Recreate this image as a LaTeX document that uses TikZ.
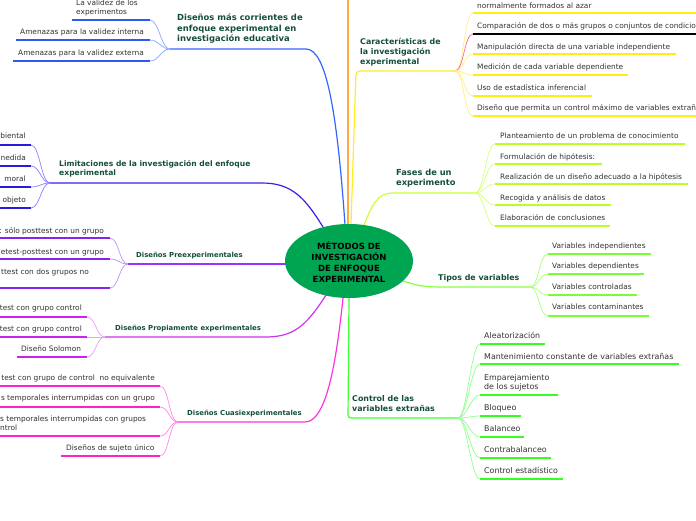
\documentclass[tikz,border=0pt]{standalone}
\usepackage{fontspec}
\setmainfont{DejaVu Sans}
\usetikzlibrary{shapes.geometric}
\definecolor{leafgray}{HTML}{333333}
\definecolor{brgreen}{HTML}{154F3C}
\definecolor{centerfill}{HTML}{00A551}
\definecolor{bOne}{HTML}{3366FF}\definecolor{bOneL}{HTML}{2F5AF0}\definecolor{bOneC}{HTML}{88A8FF}
\definecolor{bTwo}{HTML}{3322EE}\definecolor{bTwoL}{HTML}{2A1ADD}\definecolor{bTwoC}{HTML}{8C80FF}
\definecolor{bThree}{HTML}{9933FF}\definecolor{bThreeL}{HTML}{8822EE}\definecolor{bThreeC}{HTML}{C090FF}
\definecolor{bFour}{HTML}{CC33EE}\definecolor{bFourL}{HTML}{CC22EE}\definecolor{bFourC}{HTML}{EE99FF}
\definecolor{bFive}{HTML}{FF33DD}\definecolor{bFiveL}{HTML}{FF22CC}\definecolor{bFiveC}{HTML}{FF88EE}
\definecolor{bOrange}{HTML}{FFAA44}
\definecolor{bSix}{HTML}{FFEE22}\definecolor{bSixL}{HTML}{FFEE11}\definecolor{bSixC}{HTML}{FFF080}\definecolor{bSixR}{HTML}{FF6688}
\definecolor{bSeven}{HTML}{CCFF33}\definecolor{bSevenL}{HTML}{BBFF22}\definecolor{bSevenC}{HTML}{D4FF80}
\definecolor{bEight}{HTML}{88FF44}\definecolor{bEightL}{HTML}{77FF33}\definecolor{bEightC}{HTML}{AAFF77}
\definecolor{bNine}{HTML}{44FF33}\definecolor{bNineL}{HTML}{33FF22}\definecolor{bNineC}{HTML}{90FF90}
\tikzset{
  leaf/.style={font=\fontsize{7.4}{9.2}\selectfont, text=leafgray, inner sep=0pt, align=left},
  leafbig/.style={font=\fontsize{7.9}{9}\selectfont, text=leafgray, inner sep=0pt, align=left},
  brlabel/.style={font=\bfseries\fontsize{7.9}{9.6}\selectfont, text=brgreen, inner sep=0pt, align=left},
  uline/.style={line width=1.7pt},
  conn/.style={line width=0.7pt},
  mainline/.style={line width=1.2pt},
}
\newcommand\leafR[7]{\coordinate (#1a) at (#3,#5);\coordinate (#1b) at (#4,#5);%
  \draw[conn,#7] (#2) .. controls +(9,0) and +(-9,0) .. (#1a);%
  \draw[uline,#6] (#1a) -- (#1b);}
\newcommand\leafL[7]{\coordinate (#1a) at (#3,#5);\coordinate (#1b) at (#4,#5);%
  \draw[conn,#7] (#2) .. controls +(-9,0) and +(9,0) .. (#1b);%
  \draw[uline,#6] (#1a) -- (#1b);}
\begin{document}
\begin{tikzpicture}[x=1pt,y=-1pt]
\useasboundingbox (0,0) rectangle (696,520);
\fill[white] (0,0) rectangle (696,520);
\clip (0,0) rectangle (696,520);

% ---------- branch points ----------
\coordinate (E0) at (348,224); \coordinate (T0) at (348,-2);
\coordinate (E1) at (345,225); \coordinate (P1) at (170,49);
\coordinate (E2) at (323,227); \coordinate (P2) at (50,183);
\coordinate (E3) at (286,264); \coordinate (P3) at (128,264);
\coordinate (E4) at (326,295); \coordinate (P4) at (105,337);
\coordinate (E5) at (343,298); \coordinate (P5) at (178,422);
\coordinate (E6) at (351,224); \coordinate (P6) at (455,71);
\coordinate (E7) at (364,225); \coordinate (P7) at (475,193);
\coordinate (E8) at (403,281); \coordinate (P8) at (530,287);
\coordinate (E9) at (349,298); \coordinate (P9) at (458,418);

% ---------- main branch lines ----------
\draw[mainline,bOrange] (E0) -- (T0);
\draw[mainline,bOne] (E1) .. controls (337,110) and (326,49) .. (306,49) -- (P1);
\draw[mainline,bTwo] (E2) .. controls (305,198) and (292,183) .. (262,183) -- (P2);
\draw[mainline,bThree] (E3) -- (P3);
\draw[mainline,bFour] (E4) .. controls (305,328) and (292,337) .. (265,337) -- (P4);
\draw[mainline,bFive] (E5) .. controls (336,365) and (326,422) .. (305,422) -- (P5);
\draw[mainline,bSix,rounded corners=4pt] (E6) -- (356,71) -- (P6);
\draw[mainline,bSeven] (E7) .. controls (372,205) and (378,193) .. (392,193) -- (P7);
\draw[mainline,bEight] (E8) .. controls (418,286) and (425,287) .. (442,287) -- (P8);
\draw[mainline,bNine,rounded corners=3pt] (E9) -- (348,418) -- (P9);

% ---------- centre ----------
\node[ellipse,fill=centerfill,minimum width=128pt,minimum height=74pt,inner sep=0pt] (C) at (349,261) {};
\node[font=\bfseries\fontsize{8.5}{11}\selectfont,align=center,inner sep=0pt,text=black] (Ct) at (349,262) {MÉTODOS DE\\INVESTIGACIÓN\\DE ENFOQUE\\EXPERIMENTAL};

% ---------- branch 1 ----------
\node[brlabel,font=\bfseries\fontsize{8.4}{10.8}\selectfont,anchor=base west] (B1) at (177,41.9) {Diseños más corrientes de\\enfoque experimental en\\investigación educativa};
\leafL{L11}{P1}{72}{150}{20}{bOneL}{bOneC}
\leafL{L12}{P1}{16}{150}{40}{bOneL}{bOneC}
\leafL{L13}{P1}{13}{150}{61}{bOneL}{bOneC}
\node[leaf,anchor=base west] (t11) at (76,14.7) {La validez de los\\experimentos};
\node[leaf,anchor=base west] (t12) at (20,34.5) {Amenazas para la validez interna};
\node[leaf,anchor=base west] (t13) at (18,55.5) {Amenazas para la validez externa};

% ---------- branch 2 ----------
\node[brlabel,font=\bfseries\fontsize{7.6}{9.4}\selectfont,anchor=base west] (B2) at (59,175.6) {Limitaciones de la investigación del enfoque\\experimental};
\leafL{L21}{P2}{-2}{31}{145}{bTwoL}{bTwoC}
\leafL{L22}{P2}{-2}{31}{166}{bTwoL}{bTwoC}
\leafL{L23}{P2}{-2}{31}{187}{bTwoL}{bTwoC}
\leafL{L24}{P2}{-2}{31}{208}{bTwoL}{bTwoC}
\node[leaf,anchor=base east] (t21) at (26,138.5) {biental};
\node[leaf,anchor=base east] (t22) at (26,160.5) {nedida};
\node[leaf,anchor=base east] (t23) at (26,181.5) {moral};
\node[leaf,anchor=base east] (t24) at (26,202.5) {objeto};

% ---------- branch 3 ----------
\node[brlabel,font=\bfseries\fontsize{6.9}{8.5}\selectfont,anchor=base west] (B3) at (136,257.8) {Diseños Preexperimentales};
\leafL{L31}{P3}{-2}{110}{238}{bThreeL}{bThreeC}
\leafL{L32}{P3}{-2}{110}{259}{bThreeL}{bThreeC}
\leafL{L33}{P3}{-2}{110}{288}{bThreeL}{bThreeC}
\node[leaf,anchor=base east] (t31) at (104,233.5) {: sólo posttest con un grupo};
\node[leaf,anchor=base east] (t32) at (104,254.5) {etest-posttest con un grupo};
\node[leaf,anchor=base east] (t33) at (89,274.5) {ttest con dos grupos no};

% ---------- branch 4 ----------
\node[brlabel,font=\bfseries\fontsize{6.9}{8.5}\selectfont,anchor=base west] (B4) at (115,330.8) {Diseños Propiamente experimentales};
\leafL{L41}{P4}{-2}{87}{317}{bFourL}{bFourC}
\leafL{L42}{P4}{-2}{87}{337}{bFourL}{bFourC}
\leafL{L43}{P4}{17}{87}{357}{bFourL}{bFourC}
\node[leaf,anchor=base east] (t41) at (82,310.5) {test con grupo control};
\node[leaf,anchor=base east] (t42) at (82,331.5) {test con grupo control};
\node[leaf,anchor=base west] (t43) at (21,351.5) {Diseño Solomon};

% ---------- branch 5 ----------
\node[brlabel,font=\bfseries\fontsize{6.9}{8.5}\selectfont,anchor=base west] (B5) at (187,415.8) {Diseños Cuasiexperimentales};
\leafL{L51}{P5}{-2}{160}{386}{bFiveL}{bFiveC}
\leafL{L52}{P5}{-2}{160}{407}{bFiveL}{bFiveC}
\leafL{L53}{P5}{-2}{160}{436}{bFiveL}{bFiveC}
\leafL{L54}{P5}{61}{160}{456}{bFiveL}{bFiveC}
\node[leaf,anchor=base east] (t51) at (155,380.5) {test con grupo de control \ no equivalente};
\node[leaf,anchor=base east] (t52) at (155,400.5) {s temporales interrumpidas con un grupo};
\node[leaf,anchor=base west] (t53) at (0,430.7) {s temporales interrumpidas con grupos\\ntrol};
\node[leaf,anchor=base west] (t54) at (66,450.5) {Diseños de sujeto único};

% ---------- branch 6 ----------
\node[brlabel,anchor=base west] (B6) at (360,64.0) {Características de\\la investigación\\experimental};
\leafR{L61}{P6}{473}{700}{13}{bSixL}{bSixC}
\leafR{L62}{P6}{473}{700}{34}{black}{bSixR}
\leafR{L63}{P6}{473}{676}{54}{bSixL}{bSixC}
\leafR{L64}{P6}{473}{628}{75}{bSixL}{bSixC}
\leafR{L65}{P6}{473}{592}{96}{bSixL}{bSixC}
\leafR{L66}{P6}{473}{700}{116}{bSixL}{bSixC}
\node[leaf,anchor=base west] (t61) at (477,8.5) {normalmente formados al azar};
\node[leaf,anchor=base west] (t62) at (477,28.5) {Comparación de dos o más grupos o conjuntos de condiciones};
\node[leaf,anchor=base west] (t63) at (477,49) {Manipulación directa de una variable independiente};
\node[leaf,anchor=base west] (t64) at (477,69.5) {Medición de cada variable dependiente};
\node[leaf,anchor=base west] (t65) at (477,90.5) {Uso de estadística inferencial};
\node[leaf,anchor=base west] (t66) at (477,110.5) {Diseño que permita un control máximo de variables extrañas};

% ---------- branch 7 ----------
\node[brlabel,font=\bfseries\fontsize{8.3}{10}\selectfont,anchor=base west] (B7) at (396,185) {Fases de un\\experimento};
\leafR{L71}{P7}{495}{685}{144}{bSevenL}{bSevenC}
\leafR{L72}{P7}{495}{602}{164}{bSevenL}{bSevenC}
\leafR{L73}{P7}{495}{688}{184}{bSevenL}{bSevenC}
\leafR{L74}{P7}{495}{611}{205}{bSevenL}{bSevenC}
\leafR{L75}{P7}{495}{610}{226}{bSevenL}{bSevenC}
\node[leaf,anchor=base west] (t71) at (500,138.5) {Planteamiento de un problema de conocimiento};
\node[leaf,anchor=base west] (t72) at (500,159) {Formulación de hipótesis:};
\node[leaf,anchor=base west] (t73) at (500,179.5) {Realización de un diseño adecuado a la hipótesis};
\node[leaf,anchor=base west] (t74) at (500,200.5) {Recogida y análisis de datos};
\node[leaf,anchor=base west] (t75) at (500,220.5) {Elaboración de conclusiones};

% ---------- branch 8 ----------
\node[brlabel,anchor=base west] (B8) at (438,280) {Tipos de variables};
\leafR{L81}{P8}{548}{651}{254}{bEightL}{bEightC}
\leafR{L82}{P8}{548}{644}{274}{bEightL}{bEightC}
\leafR{L83}{P8}{548}{637}{295}{bEightL}{bEightC}
\leafR{L84}{P8}{548}{649}{316}{bEightL}{bEightC}
\node[leaf,anchor=base west] (t81) at (552,248.5) {Variables independientes};
\node[leaf,anchor=base west] (t82) at (552,268.5) {Variables dependientes};
\node[leaf,anchor=base west] (t83) at (552,289.5) {Variables controladas};
\node[leaf,anchor=base west] (t84) at (552,309.5) {Variables contaminantes};

% ---------- branch 9 ----------
\node[brlabel,font=\bfseries\fontsize{7.9}{9.3}\selectfont,anchor=base west] (B9) at (352,411.1) {Control de las\\variables extrañas};
\leafR{L91}{P9}{480}{545}{344}{bNineL}{bNineC}
\leafR{L92}{P9}{480}{679}{364}{bNineL}{bNineC}
\leafR{L93}{P9}{480}{558}{395}{bNineL}{bNineC}
\leafR{L94}{P9}{480}{521}{416}{bNineL}{bNineC}
\leafR{L95}{P9}{480}{524}{437}{bNineL}{bNineC}
\leafR{L96}{P9}{480}{551}{458}{bNineL}{bNineC}
\leafR{L97}{P9}{480}{563}{479}{bNineL}{bNineC}
\node[leafbig,anchor=base west] (t91) at (484,338.8) {Aleatorización};
\node[leafbig,anchor=base west] (t92) at (484,359.8) {Mantenimiento constante de variables extrañas};
\node[leafbig,anchor=base west] (t93) at (484,389.8) {Emparejamiento\\de los sujetos};
\node[leafbig,anchor=base west] (t94) at (484,410.8) {Bloqueo};
\node[leafbig,anchor=base west] (t95) at (484,431.8) {Balanceo};
\node[leafbig,anchor=base west] (t96) at (484,452.8) {Contrabalanceo};
\node[leafbig,anchor=base west] (t97) at (484,473.8) {Control estadístico};
\end{tikzpicture}
\end{document}
